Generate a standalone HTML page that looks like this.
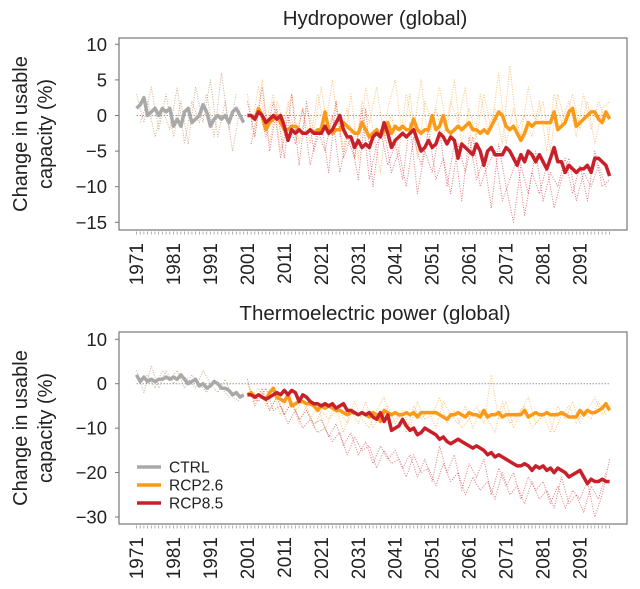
<!DOCTYPE html>
<html><head><meta charset="utf-8">
<style>
body{margin:0;background:#fff;}
svg{display:block;font-family:"Liberation Sans",sans-serif;}
</style></head>
<body>
<svg id="chart" width="640" height="589" viewBox="0 0 640 589" xmlns="http://www.w3.org/2000/svg"></svg>
<script>
// ---- data ----
const tickYears = [1971,1981,1991,2001,2011,2021,2031,2041,2051,2061,2071,2081,2091];
const hydroTicks = [10,5,0,-5,-10,-15];
const thermoTicks = [10,0,-10,-20,-30];

const hydroCtrl = [1,1.5,2.5,0,0.5,1,0,1,0.5,1,-1.5,-0.5,-1.5,0.5,1,-1,-0.5,0,1.5,0.5,-1.5,-0.5,0,-0.5,0,-1,0.5,1,0,-1];
const hydroRcp26 = [0,0,-0.5,1,0,-2,-1,-0.5,0,-1,
 -2,-2,-1.5,-1.5,-2,-2.5,-2.5,-2,-2.5,-2,
 -2,0.5,-2,-2.5,-2,-2,-1,-1.5,-2,-2.5,
 -2.5,-1,-2,-3,-2.5,-2,-3,-2,-1,-2.5,
 -1.5,-2,-1.5,-2,-2,-0.5,-2,-2.5,-2,-2,
 0,-2,-1.5,0,-2,-2.5,-2,-1.5,-2,-1.5,
 -1,-2,-2,-2.5,-2,-2.5,-1.5,-0.5,0.5,0,
 -1.5,-2,-1.5,-2.5,-3.5,-2.5,-1,-1.5,-1,-1,
 -1,-1,-1,0.5,-2,-1.5,-1,0.5,1,-1.5,
 -1,-0.5,0,0.5,0.5,-0.5,-1,0.5,-0.5];
const hydroRcp85 = [0,0,-0.5,0.5,0,-1,-0.5,0,-0.5,0,
 -1.5,-3.5,-2,-2.5,-2,-2.5,-2.5,-2,-2.5,-2.5,
 -2.5,-1.5,-2.5,-2,-1,0,-2,-3,-3,-4.5,
 -3.5,-4.5,-4,-4.5,-3,-2.5,-3,-1,-2.5,-4.5,
 -3.5,-3,-2.5,-3,-2.5,-2,-3.5,-5,-4.5,-3.5,
 -4.5,-4,-2.5,-3,-4,-3,-3.5,-6,-4,-4.5,
 -5,-5.5,-4,-5,-7,-5,-4.5,-5.5,-5.5,-5.5,
 -4.5,-5,-6,-7,-5.5,-6.5,-5,-5.5,-6.5,-5.5,
 -6.5,-7.5,-6,-4.5,-6.5,-6.5,-8,-7,-7.5,-8,
 -7.5,-7.5,-7,-8,-6,-6,-6.5,-7,-8.5];
const hydroCtrlEns = [3,-1,4,-2,3,-3,2,-4,4,-1,5,-3,2,-5,1];
const hydroCtrlEns2 = [-1,2,-3,1,-2,4,-4,2,-1,3,-3,6,-2,3];
const hydroRcp26Ens = [3,-3,5,-4,2,-1,3,-4,1,-2,4,-3,2,-5,3,-6,4,-2,-8,1,5,-3,3,-6,2,-1,4,-2,5,-4,1,-3,3,-2,6,-4,1,-3,4,-1,2,-5,3,-1,3,-2,2,-4,1,2];
const hydroRcp26Ens2 = [-2,4,-1,3,-5,2,-3,1,-4,3,-2,5,-3,1,-6,2,-1,4,-3,0,-5,3,-2,5,-4,1,-3,2,-1,4,-6,3,-2,1,-4,7,-2,0,-3,2,-5,3,-1,2,-3,3,-2,2,-1];
const hydroRcp85Ens = [2,-3,4,-5,1,-6,3,-7,2,-5,-1,-8,2,-6,-3,-9,1,-10,-2,-7,-4,-9,-1,-11,-5,-8,-2,-10,-4,-12,-3,-9,-6,-13,-4,-10,-15,-7,-11,-5,-12,-8,-10,-6,-11,-7,-12,-5,-10,-9];
const hydroRcp85Ens2 = [-4,1,-3,2,-6,0,-4,1,-7,-2,-5,0,-8,-3,-6,1,-9,-4,-2,-8,-5,-10,-3,-7,-2,-9,-6,-11,-4,-8,-3,-10,-7,-5,-12,-9,-6,-14,-8,-11,-7,-13,-9,-6,-12,-8,-10,-7,-10];

const thermoCtrl = [2,0.5,1.5,0.5,1,0.5,1,1,1.5,1,1.5,1,2,1,0,0.5,1,-0.5,0,-1,-0.5,0.5,0,-1,-1,-1.5,-2.5,-2,-3,-2.5];
const thermoRcp26 = [-2.5,-2,-3,-2.5,-3,-3.5,-2,-1,-3,-3.5,
 -4,-2.5,-5,-4.5,-4,-4,-4.5,-4.5,-5,-6,
 -5,-5.5,-5,-5.5,-6,-6,-6.5,-7,-6.5,-6.5,
 -7,-6.5,-7,-7.5,-6.5,-7,-8.5,-6,-6.5,-7,
 -6.5,-7,-7,-6.5,-7,-6.5,-7.5,-6.5,-6.5,-6.5,
 -6.5,-6.5,-7,-7.5,-8,-7,-7,-6.5,-7,-7.5,
 -6.5,-7,-7,-7.5,-6,-7.5,-7,-7,-6.5,-7.5,
 -7,-7,-7,-7,-7,-6,-7.5,-7,-6.5,-7,
 -7,-6.5,-7,-7,-7,-6.5,-7,-7.5,-7.5,-7.5,
 -6,-7,-6,-6.5,-6.5,-6,-5.5,-4.5,-6];
const thermoRcp85 = [-2.5,-2.5,-3,-2.5,-3,-3.5,-3,-2.5,-2,-2.5,
 -1.5,-2.5,-1.5,-2,-4,-2.5,-3,-4,-4.5,-4.5,
 -5,-4.5,-5,-4.5,-5.5,-5,-4.5,-6,-6,-6.5,
 -7,-6.5,-7,-6.5,-7.5,-8,-6.5,-8.5,-7,-10.5,
 -10,-9.5,-8,-9.5,-10.5,-10,-11.5,-11,-10,-10.5,
 -11,-11.5,-12.5,-12,-13,-13.5,-13,-12.5,-13,-13.5,
 -14,-14.5,-14,-14.5,-15,-16,-15.5,-16.5,-16,-16.5,
 -17,-17.5,-18,-18.5,-18.5,-18,-18.5,-19.5,-18.5,-19,
 -18.5,-19.5,-19,-20,-19,-19.5,-20,-21,-20.5,-20,
 -19.5,-21,-22.5,-21.5,-22,-22,-21.5,-22,-22];
const thermoCtrlEns = [3,-2,4,-1,3,0,2,1,-1,3,0,-2,1,-3,-4];
const thermoCtrlEns2 = [0,2,-1,3,1,3,-1,2,0,-2,1,-1,-3,-2];
const thermoRcp26Ens = [0,-4,-2,-6,-3,-7,-4,-9,-5,-10,-6,-8,-5,-11,-6,-9,-4,-10,-7,-5,-9,-6,-10,-4,-8,-7,-3,-9,-6,-10,-8,-5,-9,2,-8,-4,-10,-6,-3,-9,-7,-11,-5,-8,-4,-9,-6,-3,-7,-5];
const thermoRcp26Ens2 = [-3,-1,-5,-2,-7,-3,-6,-4,-8,-5,-10,-7,-6,-9,-4,-8,-10,-6,-3,-9,-7,-11,-5,-8,-6,-10,-4,-7,-9,-5,-10,-6,-8,-11,-4,-9,-7,-5,-10,-8,-6,-11,-7,-5,-9,-6,-8,-4,-7];
const thermoRcp85Ens = [1,-5,-1,-6,-3,-7,-4,-8,-6,-9,-8,-12,-9,-14,-11,-16,-13,-18,-14,-17,-15,-19,-16,-21,-17,-22,-14,-20,-16,-24,-18,-21,-17,-25,-19,-23,-20,-26,-21,-24,-22,-27,-23,-28,-24,-26,-22,-30,-25,-17];
const thermoRcp85Ens2 = [-2,-4,-1,-6,-5,-9,-6,-10,-8,-11,-10,-13,-11,-16,-12,-15,-14,-19,-15,-18,-17,-21,-16,-20,-19,-23,-18,-22,-20,-25,-21,-24,-22,-26,-20,-25,-23,-27,-22,-26,-24,-28,-21,-27,-25,-29,-23,-26,-20];

// ---- drawing ----
const NS = "http://www.w3.org/2000/svg";
const svg = document.getElementById('chart');
const GRAY = "#a9a9a9", ORANGE = "#fb9a18", RED = "#c8202a", BROWN = "#b07a4a";
function mk(tag, attrs, parent){
  const e = document.createElementNS(NS, tag);
  for (const k in attrs) e.setAttribute(k, attrs[k]);
  (parent||svg).appendChild(e);
  return e;
}
const xScale = yr => 136.5 + (yr - 1971) * 3.696;

function panel(cfg){
  const g = mk('g', {});
  
  
  const yScale = v => cfg.y0 + (v - cfg.v0) * (cfg.y1 - cfg.y0) / (cfg.v1 - cfg.v0);
  const t = mk('text', {x:375, y:cfg.titleY, 'text-anchor':'middle', 'font-size':20.5, fill:'#222'}, g);
  t.textContent = cfg.title;
  
  
  const box = mk('rect', {x:119, y:cfg.top, width:508, height:cfg.bottom-cfg.top, fill:'none', stroke:'#777', 'stroke-width':1.2}, g);
  
  
  const yt = mk('text', {transform:`translate(33,${(cfg.top+cfg.bottom)/2}) rotate(-90)`, 'text-anchor':'middle', 'font-size':20, fill:'#222'}, g);
  
  
  const t1 = mk('tspan', {x:0, dy:-6}, yt); t1.textContent = 'Change in usable';
  const t2 = mk('tspan', {x:0, dy:25}, yt); t2.textContent = 'capacity (%)';
  cfg.ticks.forEach(v => {
    const y = yScale(v);
    const tk = mk('line', {x1:115, x2:119, y1:y, y2:y, stroke:'#777', 'stroke-width':1}, g);
    
    
    const lb = mk('text', {x:107, y:y+6.5, 'text-anchor':'end', 'font-size':18.5, fill:'#222'}, g);
    lb.textContent = v < 0 ? '\u2212' + Math.abs(v) : String(v);
    
    
  });
  for (let yr = 1971; yr <= 2099; yr++){
    const x = xScale(yr);
    const tk = mk('line', {x1:x, x2:x, y1:cfg.bottom+1.5, y2:cfg.bottom+4.5, stroke:'#999', 'stroke-width':0.8}, g);
    
    
  }
  tickYears.forEach(yr => {
    const x = xScale(yr);
    const lb = mk('text', {transform:`translate(${x+6.5},${cfg.bottom+13}) rotate(-90)`, 'text-anchor':'end', 'font-size':19, fill:'#222'}, g);
    lb.textContent = yr;
    
    
  });
  const z = mk('line', {x1:xScale(1971), x2:xScale(2099), y1:yScale(0), y2:yScale(0), stroke:'#999', 'stroke-width':1, 'stroke-dasharray':'1.5 1.5'}, g);
  
  
  function series(arr, start, step, color, width, dotted, name){
    const pts = arr.map((v,i) => `${xScale(start + i*step).toFixed(1)},${yScale(v).toFixed(1)}`).join(' ');
    const attrs = {points:pts, fill:'none', stroke:color, 'stroke-width':width, 'stroke-linejoin':'round'};
    if (dotted){ attrs['stroke-dasharray'] = '1 1.5'; attrs['opacity'] = 0.6; }
    const p = mk('polyline', attrs, g);
    
    
  }
  series(cfg.ctrlEns, 1971, 2, BROWN, 1, true, 'ctrl-ensemble-line');
  series(cfg.ctrlEns2, 1972, 2, BROWN, 1, true, 'ctrl-ensemble-line-2');
  series(cfg.r26Ens, 2001, 2, ORANGE, 1, true, 'rcp26-ensemble-line');
  series(cfg.r26Ens2, 2002, 2, ORANGE, 1, true, 'rcp26-ensemble-line-2');
  series(cfg.r85Ens, 2001, 2, RED, 1, true, 'rcp85-ensemble-line');
  series(cfg.r85Ens2, 2002, 2, RED, 1, true, 'rcp85-ensemble-line-2');
  series(cfg.r26, 2001, 1, ORANGE, 3.5, false, 'rcp26-mean-line');
  series(cfg.r85, 2001, 1, RED, 3.5, false, 'rcp85-mean-line');
  series(cfg.ctrl, 1971, 1, GRAY, 3.5, false, 'ctrl-mean-line');
  return g;
}

panel({name:'hydropower-panel', title:'Hydropower (global)', titleY:25, top:38, bottom:230,
  v0:10, y0:44.3, v1:-15, y1:222.3, ticks:hydroTicks,
  ctrl:hydroCtrl, r26:hydroRcp26, r85:hydroRcp85,
  ctrlEns:hydroCtrlEns, ctrlEns2:hydroCtrlEns2, r26Ens:hydroRcp26Ens, r26Ens2:hydroRcp26Ens2, r85Ens:hydroRcp85Ens, r85Ens2:hydroRcp85Ens2});
panel({name:'thermoelectric-panel', title:'Thermoelectric power (global)', titleY:320, top:332, bottom:524,
  v0:10, y0:339.3, v1:-30, y1:517, ticks:thermoTicks,
  ctrl:thermoCtrl, r26:thermoRcp26, r85:thermoRcp85,
  ctrlEns:thermoCtrlEns, ctrlEns2:thermoCtrlEns2, r26Ens:thermoRcp26Ens, r26Ens2:thermoRcp26Ens2, r85Ens:thermoRcp85Ens, r85Ens2:thermoRcp85Ens2});

const legendLabels = ['CTRL','RCP2.6','RCP8.5'];
const legendColors = [GRAY, ORANGE, RED];
const lg = mk('g', {});


legendLabels.forEach((lab, i) => {
  const y = 467 + i*18;
  const ln = mk('line', {x1:137, x2:161, y1:y, y2:y, stroke:legendColors[i], 'stroke-width':3.5}, lg);
  
  
  const tx = mk('text', {x:169, y:y+5.5, 'font-size':15.5, fill:'#222'}, lg);
  tx.textContent = lab;
  
  
});
</script>
</body></html>
